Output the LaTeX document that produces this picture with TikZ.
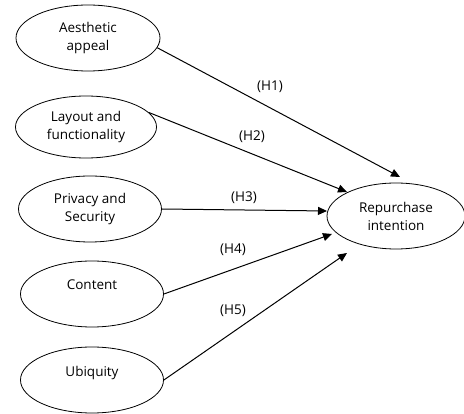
\documentclass[tikz,border=0pt]{standalone}
\usepackage{fontspec}
\setmainfont{Open Sans}
\usetikzlibrary{shapes.geometric,arrows.meta}
\begin{document}
\begin{tikzpicture}[x=1pt,y=-1pt,
  var/.style={ellipse,draw,line width=0.8pt,minimum width=144pt,minimum height=66pt,inner sep=0pt,align=center,font=\fontsize{13.5}{18}\selectfont},
  hyp/.style={-{Triangle[length=9pt,width=8pt]},line width=1pt},
  lab/.style={font=\fontsize{13.5}{18}\selectfont,inner sep=0pt}]
\useasboundingbox (0,0) rectangle (464,414);
\node[var] (ae) at (88,38) {Aesthetic\\appeal};
\node[var,minimum width=141pt,minimum height=62pt] (la) at (86,127) {Layout and\\functionality};
\node[var,minimum width=143pt] (ps) at (90,209) {Privacy and\\Security};
\node[var,minimum width=143pt] (co) at (92,294) {Content\\\phantom{C}};
\node[var,minimum width=143pt] (ub) at (92,380) {Ubiquity\\\phantom{U}};
\node[var,minimum width=138pt] (rp) at (396,216) {Repurchase\\intention};
\coordinate (t1) at (400,177);
\coordinate (t2) at (347,192);
\coordinate (t3) at (327,211);
\coordinate (t4) at (332,234);
\coordinate (t5) at (347,253);
\draw[hyp] (ae.-8) -- (t1);
\draw[hyp] (la.13) -- (t2);
\draw[hyp] (ps.east) -- (t3);
\draw[hyp] (co.east) -- (t4);
\draw[hyp] (ub.east) -- (t5);
\node[lab] (h1) at (270,87) {(H1)};
\node[lab] (h2) at (252,137) {(H2)};
\node[lab] (h3) at (244,198) {(H3)};
\node[lab] (h4) at (233,250) {(H4)};
\node[lab] (h5) at (233,311) {(H5)};
\end{tikzpicture}
\end{document}
